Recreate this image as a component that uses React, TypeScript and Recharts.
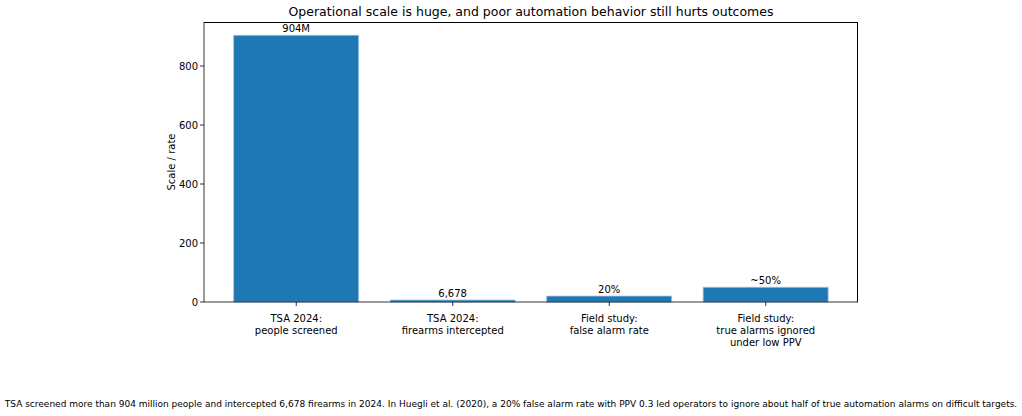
import React from "react";
import { BarChart, Bar, XAxis, YAxis, LabelList } from "recharts";

const categories = [
  "TSA 2024:\npeople screened",
  "TSA 2024:\nfirearms intercepted",
  "Field study:\nfalse alarm rate",
  "Field study:\ntrue alarms ignored\nunder low PPV",
];
const values = [904, 6.678, 20, 50];
const barLabels = ["904M", "6,678", "20%", "~50%"];
const yTicks = [0, 200, 400, 600, 800];

const data = categories.map((c, i) => ({ cat: c, value: values[i], label: barLabels[i] }));

const FONT = "DejaVu Sans, sans-serif";

const XTick = (props: any) => {
  const { x, y, payload } = props;
  const lines = String(payload.value).split("\n");
  return (
    <g transform={`translate(${x},${y})`}>
      <text textAnchor="middle" fontFamily={FONT} fontSize={10} fill="#000">
        {lines.map((l, i) => (
          <tspan key={i} x={0} dy={i === 0 ? 14 : 12}>
            {l}
          </tspan>
        ))}
      </text>
    </g>
  );
};

const YLabel = (props: any) => {
  const { viewBox } = props;
  const cx = 172;
  const cy = viewBox.y + viewBox.height / 2;
  return (
    <text
      x={cx}
      y={cy}
      transform={`rotate(-90 ${cx} ${cy})`}
      textAnchor="middle"
      dominantBaseline="middle"
      fontFamily={FONT}
      fontSize={10}
      fill="#000"
    >
      Scale / rate
    </text>
  );
};

export default function App() {
  return (
    <div style={{ position: "absolute", left: 0, top: 0, width: 1022, height: 416, background: "#fff" }}>
      <div
        style={{
          position: "absolute",
          left: 204,
          width: 654,
          top: 4,
          textAlign: "center",
          fontFamily: FONT,
          fontSize: 12.5,
          color: "#000",
          whiteSpace: "nowrap",
        }}
      >
        Operational scale is huge, and poor automation behavior still hurts outcomes
      </div>
      <BarChart
        width={1022}
        height={416}
        data={data}
        margin={{ top: 22, right: 164, bottom: 54, left: 0 }}
        barCategoryGap="10%"
      >
        <XAxis
          dataKey="cat"
          interval={0}
          padding={{ left: 14, right: 14 }}
          tick={<XTick />}
          tickSize={4}
          axisLine={{ stroke: "#000", strokeWidth: 0.8 }}
          tickLine={{ stroke: "#000", strokeWidth: 0.8 }}
          height={60}
        />
        <YAxis
          domain={[0, 949.2]}
          ticks={yTicks}
          width={204}
          tickSize={4}
          tickMargin={2}
          tick={{ fontFamily: FONT, fontSize: 10, fill: "#000" }}
          axisLine={{ stroke: "#000", strokeWidth: 0.8 }}
          tickLine={{ stroke: "#000", strokeWidth: 0.8 }}
          label={<YLabel />}
        />
        <Bar dataKey="value" fill="#1f77b4" stroke="#9fc3e2" strokeWidth={0.8} isAnimationActive={false}>
          <LabelList
            dataKey="label"
            position="top"
            offset={3}
            style={{ fontFamily: FONT, fontSize: 10, fill: "#000" }}
          />
        </Bar>
      </BarChart>
      <div
        style={{
          position: "absolute",
          left: 204,
          top: 22,
          width: 654,
          height: 280,
          boxSizing: "border-box",
          borderTop: "0.8px solid #000",
          borderRight: "0.8px solid #000",
          pointerEvents: "none",
        }}
      />
      <div
        style={{
          position: "absolute",
          left: 0,
          width: 1022,
          top: 399,
          textAlign: "center",
          fontFamily: FONT,
          fontSize: 9,
          color: "#000",
          whiteSpace: "nowrap",
        }}
      >
        TSA screened more than 904 million people and intercepted 6,678 firearms in 2024. In Huegli et al. (2020), a 20% false alarm rate with PPV 0.3 led operators to ignore about half of true automation alarms on difficult targets.
      </div>
    </div>
  );
}
